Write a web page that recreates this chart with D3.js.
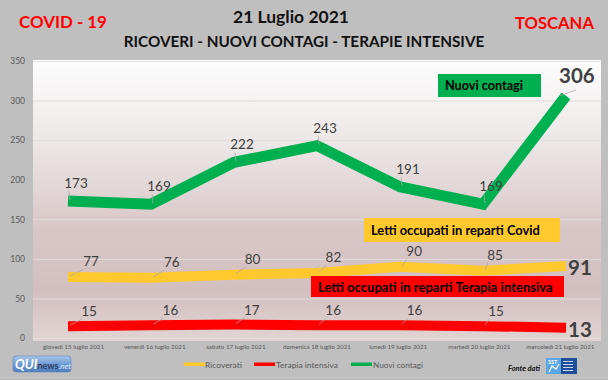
<!DOCTYPE html>
<html><head><meta charset="utf-8">
<script src="https://cdn.jsdelivr.net/npm/d3@7"></script>
<style>body{margin:0;background:#bfbfbf} svg{display:block;font-family:Lato,"Open Sans",sans-serif}</style>
</head><body><svg id="c" width="608" height="380"></svg>
<script>
// ---- data ----
const categories = ["giovedì 15 luglio 2021","venerdì 16 luglio 2021","sabato 17 luglio 2021","domenica 18 luglio 2021","lunedì 19 luglio 2021","martedì 20 luglio 2021","mercoledì 21 luglio 2021"];
const nuoviContagi = [173,169,222,243,191,169,306];
const ricoverati = [77,76,80,82,90,85,91];
const terapiaIntensiva = [15,16,17,16,16,15,13];
const yTicks = [0,50,100,150,200,250,300,350];
const legendNames = ["Ricoverati","Terapia intensiva","Nuovi contagi"];
const titleDate = "21 Luglio 2021";
const titleSub = "RICOVERI - NUOVI CONTAGI - TERAPIE INTENSIVE";
const titleLeft = "COVID - 19";
const titleRight = "TOSCANA";
const calloutTexts = ["Nuovi contagi","Letti occupati in reparti Covid","Letti occupati in reparti Terapia intensiva"];

// ---- chart ----
const svg = d3.select("#c");
const W = 608, H = 380;
const plot = {x0:33, x1:601, y0:60, y1:341};
const x = d3.scalePoint().domain(categories).range([68,566]);
const xLab = d3.scaleBand().domain(categories).range([plot.x0, plot.x1]);
const y = d3.scaleLinear().domain([0,350]).range([338,61]);

function fit(sel, w){
  const n = sel.node(); const l = n.getComputedTextLength();
  const fs = parseFloat(sel.attr("font-size"));
  sel.attr("font-size", (fs*w/l).toFixed(2));
  return sel;
}

svg.append("rect").attr("width",W).attr("height",H).attr("fill","#bfbfbf");

const defs = svg.append("defs");
const g1 = defs.append("linearGradient").attr("id","pa").attr("x1",0).attr("y1",0).attr("x2",0).attr("y2",1);
[["0%","#fdfdfd"],["30%","#ece6e6"],["60%","#d9c7c7"],["82%","#d3bfbf"],["100%","#e2d4d4"]].forEach(s=>g1.append("stop").attr("offset",s[0]).attr("stop-color",s[1]));
const g2 = defs.append("linearGradient").attr("id","qn").attr("x1",0).attr("y1",0).attr("x2",0).attr("y2",1);
[["0%","#a9c6ea"],["50%","#6f9cd6"],["100%","#4c7dbf"]].forEach(s=>g2.append("stop").attr("offset",s[0]).attr("stop-color",s[1]));

// plot area
svg.append("rect").attr("x",plot.x0).attr("y",plot.y0).attr("width",plot.x1-plot.x0).attr("height",plot.y1-plot.y0).attr("fill","url(#pa)");

// gridlines
const grid = svg.append("g").attr("transform",`translate(${plot.x0},0)`)
  .call(d3.axisLeft(y).tickValues(yTicks).tickSize(-(plot.x1-plot.x0)).tickFormat(""));
grid.select(".domain").remove();
grid.selectAll("line").attr("stroke","#e2dcdc").attr("stroke-width",1);

// y axis labels
const ya = svg.append("g").attr("transform","translate(29,0)")
  .call(d3.axisLeft(y).tickValues(yTicks).tickSize(0).tickPadding(4));
ya.select(".domain").remove();
ya.selectAll("text").attr("font-size",8.5).attr("fill","#595959").attr("font-family","Lato");

// x axis labels
const xa = svg.append("g").attr("transform",`translate(0,${plot.y1})`)
  .call(d3.axisBottom(xLab).tickSize(0).tickPadding(4));
xa.select(".domain").remove();
xa.selectAll("text").attr("font-size",7).attr("fill","#595959").attr("font-family","Lato");
{
  const t = xa.select("text"); const l = t.node().getComputedTextLength();
  xa.selectAll("text").attr("font-size",(7*61/l).toFixed(2));
}

// lines
const line = d3.line().x((d,i)=>x(categories[i])).y(d=>y(d));
const series = [
  {vals:ricoverati, color:"#ffc82c", w:10},
  {vals:terapiaIntensiva, color:"#ff0000", w:10},
  {vals:nuoviContagi, color:"#00b050", w:11}
];
svg.append("g").selectAll("path").data(series).join("path")
  .attr("d",d=>line(d.vals)).attr("fill","none")
  .attr("stroke",d=>d.color).attr("stroke-width",d=>d.w)
  .attr("stroke-linejoin","miter").attr("stroke-miterlimit",3).attr("stroke-linecap","butt");

// callout boxes
const boxes = [
  {t:calloutTexts[0], x:438, y:74, w:103, h:23, fill:"#00b050", tx:445, ty:90, tw:78},
  {t:calloutTexts[1], x:364, y:218, w:196, h:24, fill:"#ffc82c", tx:371, ty:235, tw:169},
  {t:calloutTexts[2], x:311, y:276, w:253, h:21, fill:"#ff0000", tx:318, ty:292, tw:235}
];
boxes.forEach(b=>{
  svg.append("rect").attr("x",b.x).attr("y",b.y).attr("width",b.w).attr("height",b.h).attr("fill",b.fill);
  fit(svg.append("text").attr("x",b.tx).attr("y",b.ty).attr("font-size",13).attr("font-weight","bold").attr("fill","#000").text(b.t), b.tw);
});

// data labels
const lab = svg.append("g");
const labelCfg = [
  {vals:nuoviContagi, dx:i=>8, dy:-13, last:{dx:-7, dy:-13, leader:true}},
  {vals:ricoverati, dx:i=>23-2.2*i, dy:-11, last:{dx:2, dy:9}},
  {vals:terapiaIntensiva, dx:i=>21-1.6*i, dy:-10, last:{dx:2, dy:9}}
];
labelCfg.forEach(c=>{
  c.vals.forEach((v,i)=>{
    const px = x(categories[i]), py = y(v);
    if(i === c.vals.length-1){
      lab.append("text").attr("x",px+c.last.dx).attr("y",py+c.last.dy).attr("font-size",20.5).attr("font-weight","bold")
        .attr("fill","#404040").text(v);
      if(c.last.leader){
        lab.append("line").attr("x1",px-6).attr("y1",py).attr("x2",px+10).attr("y2",py-6).attr("stroke","#a6a6a6").attr("stroke-width",0.75);
      }
    } else {
      const cx = px + c.dx(i), by = py + c.dy;
      lab.append("line").attr("x1",px+2).attr("y1",py-1).attr("x2",cx-7).attr("y2",by+3)
        .attr("stroke","#a6a6a6").attr("stroke-width",0.75);
      lab.append("text").attr("x",cx).attr("y",by).attr("text-anchor","middle").attr("font-size",13.5)
        .attr("fill","#404040").text(v);
    }
  });
});

// titles
fit(svg.append("text").attr("x",19).attr("y",28).attr("font-size",18).attr("font-weight","bold").attr("fill","#ff0000").text(titleLeft), 88);
fit(svg.append("text").attr("x",291).attr("y",23).attr("text-anchor","middle").attr("font-size",18).attr("font-weight","bold").attr("fill","#111").text(titleDate), 116);
fit(svg.append("text").attr("x",304).attr("y",47).attr("text-anchor","middle").attr("font-size",15).attr("font-weight","bold").attr("fill","#111").text(titleSub), 361);
fit(svg.append("text").attr("x",515).attr("y",29).attr("font-size",18).attr("font-weight","bold").attr("fill","#ff0000").text(titleRight), 79);

// legend
const leg = [
  {n:legendNames[0], c:"#ffc82c", sx:184, tx:205, tw:37},
  {n:legendNames[1], c:"#ff0000", sx:254, tx:276, tw:62},
  {n:legendNames[2], c:"#00b050", sx:351, tx:373, tw:50}
];
leg.forEach(l=>{
  svg.append("rect").attr("x",l.sx).attr("y",362.5).attr("width",21).attr("height",3.5).attr("fill",l.c);
  fit(svg.append("text").attr("x",l.tx).attr("y",368).attr("font-size",10).attr("fill","#595959").text(l.n), l.tw);
});

// QUInews logo
svg.append("rect").attr("x",13).attr("y",356).attr("width",58).attr("height",16).attr("rx",3).attr("fill","url(#qn)").attr("stroke","#5f86bb").attr("stroke-width",0.6);
const qt = svg.append("text").attr("x",15).attr("y",369).attr("font-weight","bold");
qt.append("tspan").attr("font-size",13).attr("fill","#fff").attr("font-style","italic").text("QUI");
qt.append("tspan").attr("font-size",9).attr("fill","#2d3d5c").text("news");
qt.append("tspan").attr("font-size",8).attr("fill","#dce8f6").attr("font-style","italic").attr("font-weight","normal").text(".net");

// Fonte dati + SST logo
fit(svg.append("text").attr("x",508).attr("y",371).attr("font-size",9).attr("font-weight","bold").attr("font-style","italic").attr("fill","#111").text("Fonte dati"), 32);
svg.append("rect").attr("x",546).attr("y",358).attr("width",15).attr("height",16).attr("fill","#5aa6e6");
svg.append("rect").attr("x",561).attr("y",358).attr("width",16).attr("height",16).attr("fill","#1f4e9c");
svg.append("text").attr("x",548).attr("y",364).attr("font-size",5.5).attr("font-weight","bold").attr("fill","#fff").text("SST");
svg.append("path").attr("d","M549,372 L552,366 L556,369 L559,364").attr("stroke","#fff").attr("stroke-width",1.2).attr("fill","none");
[361,364,367,370].forEach(yy=>svg.append("rect").attr("x",563).attr("y",yy).attr("width",10).attr("height",1).attr("fill","#c9d6ee"));

// bottom strip
svg.append("line").attr("x1",0).attr("x2",W).attr("y1",377.5).attr("y2",377.5).attr("stroke","#cacaca");
</script></body></html>
